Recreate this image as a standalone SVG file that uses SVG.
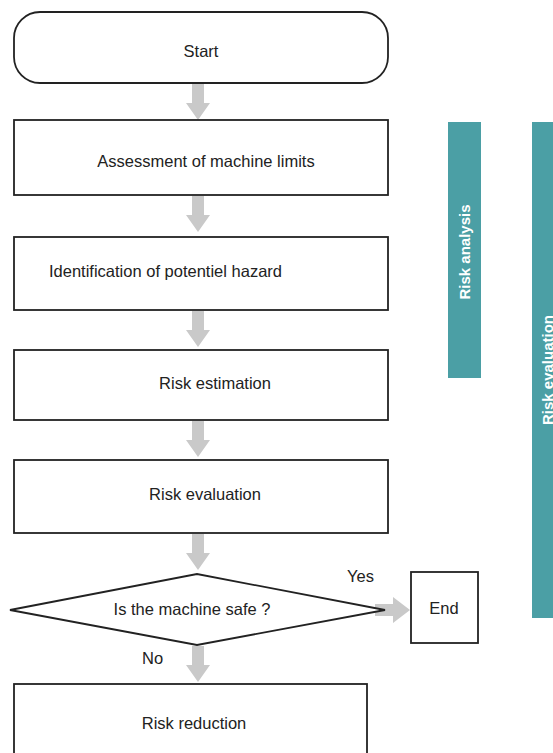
<svg xmlns="http://www.w3.org/2000/svg" width="553" height="753" viewBox="0 0 553 753">
<style>
.box{fill:#fff;stroke:#222;stroke-width:1.8}
.t{font-family:"Liberation Sans",Arial,sans-serif;font-size:16.5px;fill:#222}
.bar{fill:#4b9fa5}
.bt{font-family:"Liberation Sans",Arial,sans-serif;font-size:15px;font-weight:bold;fill:#fff}
.arr{fill:#c9c9c9}
</style>
<defs>
<path id="down" d="M-6,0 H6 V19 H12 L0,36 L-12,19 H-6 Z" class="arr"/>
</defs>
<rect width="553" height="753" fill="#fff"/>
<g id="connectors">
<use href="#down" x="198" y="84"/>
<use href="#down" x="198" y="196"/>
<use href="#down" x="198" y="311"/>
<use href="#down" x="198" y="421"/>
<use href="#down" x="198" y="534"/>
<use href="#down" x="198" y="646"/>
<path class="arr" d="M375,604 H393 V597 L410,610 L393,623 V616 H375 Z"/>
<text class="t" x="347" y="582">Yes</text>
<text class="t" x="142" y="664">No</text>
</g>
<g id="start">
<rect class="box" x="14" y="12" width="374" height="71" rx="26"/>
<text class="t" x="201" y="57" text-anchor="middle">Start</text>
</g>
<g id="limits">
<rect class="box" x="14" y="120" width="374" height="75"/>
<text class="t" x="206" y="167" text-anchor="middle">Assessment of machine limits</text>
</g>
<g id="hazard">
<rect class="box" x="14" y="237" width="374" height="73"/>
<text class="t" x="49" y="277">Identification of potentiel hazard</text>
</g>
<g id="estimation">
<rect class="box" x="14" y="350" width="374" height="70"/>
<text class="t" x="215" y="389" text-anchor="middle">Risk estimation</text>
</g>
<g id="evaluation">
<rect class="box" x="14" y="460" width="374" height="73"/>
<text class="t" x="205" y="500" text-anchor="middle">Risk evaluation</text>
</g>
<g id="decision">
<polygon class="box" points="10,610 197,574 385,610 197,645"/>
<text class="t" x="192" y="615" text-anchor="middle">Is the machine safe ?</text>
</g>
<g id="end">
<rect class="box" x="411" y="572" width="67" height="71"/>
<text class="t" x="444" y="614" text-anchor="middle">End</text>
</g>
<g id="reduction">
<rect class="box" x="14" y="684" width="353" height="75"/>
<text class="t" x="194" y="729" text-anchor="middle">Risk reduction</text>
</g>
<g id="risk-analysis">
<rect class="bar" x="448" y="122" width="33" height="256"/>
<text class="bt" transform="translate(470,252) rotate(-90)" text-anchor="middle">Risk analysis</text>
</g>
<g id="risk-evaluation-bar">
<rect class="bar" x="532" y="122" width="30" height="496"/>
<text class="bt" transform="translate(553,370) rotate(-90)" text-anchor="middle">Risk evaluation</text>
</g>
</svg>
